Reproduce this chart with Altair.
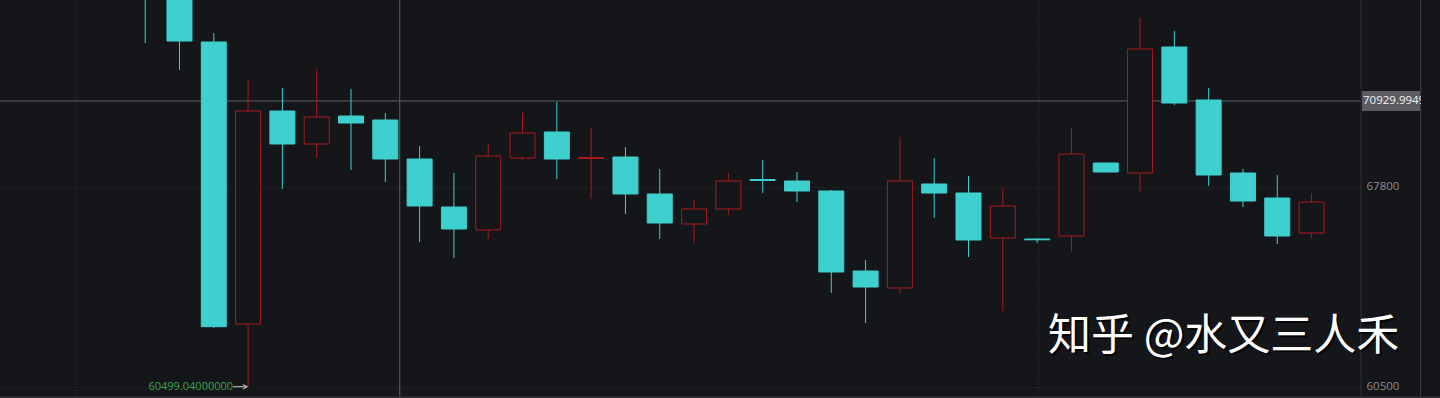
import altair as alt
import pandas as pd

BG = "#141619"
CYAN = "#3ecfcf"
RED = "#a8191f"

# candle index, OHLC values
idx = list(range(1, 36))
opens = [75600, 74950, 73082, 62789, 70563, 69359, 70380, 70235, 68811, 67059,
         66220, 68848, 69797, 68829, 68884, 67534, 66439, 66986, 68063, 68008,
         67643, 64723, 64103, 67899, 67570, 65928, 65891, 66001, 68665, 68300,
         72899, 70965, 68300, 67388, 66110]
closes = [74900, 73118, 62690, 70563, 69359, 70344, 70125, 68811, 67096, 66256,
          68921, 69760, 68811, 68866, 67534, 66475, 66986, 68008, 68026, 67643,
          64687, 64139, 68008, 67570, 65855, 67096, 65862, 68994, 68337, 72826,
          70855, 68227, 67278, 66001, 67242]
highs = [76100, 75300, 73410, 71731, 71403, 72096, 71366, 70490, 69286, 68300,
         69359, 70490, 70892, 69943, 69249, 68446, 67315, 68300, 68775, 68337,
         67680, 65124, 69614, 68848, 68191, 67753, 65909, 69943, 68665, 73958,
         73483, 71403, 68446, 68227, 67570]
lows = [73045, 72060, 62642, 60499.04, 67716, 68848, 68410, 67972, 65782, 65198,
        65891, 68775, 68081, 67351, 66804, 65891, 65745, 66767, 67570, 67242,
        63920, 62825, 63920, 66657, 65234, 63263, 65745, 65417, 68337, 67607,
        70782, 67826, 67059, 65709, 65928]

axis_ticks = [60500, 67800]
cross_price = 70929.9949
cross_label = "70929.9949"
cross_index = 8.42
grid_index = [-1, 27.05]
low_label = "60499.04000000"
low_index = 4
low_price = 60499.04
watermark = "知乎 @水又三人禾"

W, H = 1361, 397
x_dom = [-3.086, 36.295]
y_dom = [60124, 74615]

df = pd.DataFrame({"i": idx, "open": opens, "close": closes, "high": highs, "low": lows})
df["dir"] = ["up" if c >= o else "down" for o, c in zip(opens, closes)]

xs = alt.Scale(domain=x_dom, nice=False, zero=False)
ys = alt.Scale(domain=y_dom, nice=False, zero=False)

yaxis = alt.Axis(orient="right", values=axis_ticks, title=None, ticks=False, domain=False,
                 format="d", grid=True, gridColor="#2e3137", gridDash=[1, 2],
                 labelColor="#8c8c8c", labelFontSize=11.5, labelFont="Open Sans",
                 labelPadding=5)

base = alt.Chart(df)

wicks = base.mark_rule(strokeWidth=1, clip=True).encode(
    x=alt.X("i:Q", scale=xs, axis=None),
    y=alt.Y("low:Q", scale=ys, axis=yaxis),
    y2="high:Q",
    color=alt.Color("dir:N", scale=alt.Scale(domain=["up", "down"], range=[RED, CYAN]), legend=None),
)

bodies = base.mark_bar(size=25, strokeWidth=1, clip=True).encode(
    x=alt.X("i:Q", scale=xs, axis=None),
    y=alt.Y("open:Q", scale=ys, axis=yaxis),
    y2="close:Q",
    fill=alt.Fill("dir:N", scale=alt.Scale(domain=["up", "down"], range=[BG, CYAN]), legend=None),
    stroke=alt.Stroke("dir:N", scale=alt.Scale(domain=["up", "down"], range=[RED, CYAN]), legend=None),
)

grid_v = alt.Chart(pd.DataFrame({"g": grid_index})).mark_rule(
    color="#2e3137", strokeDash=[1, 2], strokeWidth=1
).encode(x=alt.X("g:Q", scale=xs, axis=None), y=alt.value(0), y2=alt.value(H))

cross_v = alt.Chart(pd.DataFrame({"c": [cross_index]})).mark_rule(
    color="#5e5f62", strokeWidth=1
).encode(x=alt.X("c:Q", scale=xs, axis=None), y=alt.value(0), y2=alt.value(H))

cdf = pd.DataFrame({"p": [cross_price], "t": [cross_label]})
cross_h = alt.Chart(cdf).mark_rule(color="#5e5f62", strokeWidth=1).encode(
    y=alt.Y("p:Q", scale=ys, axis=yaxis), x=alt.value(0), x2=alt.value(W))
cross_box = alt.Chart(cdf).mark_rule(color="#5b5b62", strokeWidth=20, strokeCap="butt").encode(
    y=alt.Y("p:Q", scale=ys, axis=yaxis), x=alt.value(W + 1), x2=alt.value(1420))
cross_txt = alt.Chart(cdf).mark_text(align="left", baseline="middle", color="#f2f2f2",
                                     fontSize=11.5, font="Open Sans").encode(
    y=alt.Y("p:Q", scale=ys, axis=yaxis), x=alt.value(W + 2), text="t:N")
mask = alt.Chart(cdf).mark_rule(color=BG, strokeWidth=30, strokeCap="butt").encode(
    y=alt.Y("p:Q", scale=ys, axis=yaxis), x=alt.value(1421), x2=alt.value(1440))

ldf = pd.DataFrame({"i": [low_index], "p": [low_price], "t": [low_label]})
low_txt = alt.Chart(ldf).mark_text(align="right", baseline="middle", color="#3da24b",
                                   fontSize=11, font="Open Sans", dx=-15).encode(
    x=alt.X("i:Q", scale=xs, axis=None), y=alt.Y("p:Q", scale=ys, axis=yaxis), text="t:N")
low_line = alt.Chart(ldf).mark_rule(color="#d0d0d0", strokeWidth=1,
                                    xOffset=-15, x2Offset=-1).encode(
    x=alt.X("i:Q", scale=xs, axis=None), x2="i:Q",
    y=alt.Y("p:Q", scale=ys, axis=yaxis))
low_head = alt.Chart(ldf).mark_point(shape="M -1 -1 L 1 0 L -1 1", size=20, filled=False,
                                     color="#d0d0d0", strokeWidth=1, opacity=1,
                                     xOffset=-3).encode(
    x=alt.X("i:Q", scale=xs, axis=None),
    y=alt.Y("p:Q", scale=ys, axis=yaxis))

wdf = pd.DataFrame({"t": [watermark]})
wm_shadow = alt.Chart(wdf).mark_text(align="left", baseline="middle", color="#000000", opacity=0.75,
                                     fontSize=43, font="Noto Sans CJK SC", dx=2, dy=2).encode(
    x=alt.value(1048), y=alt.value(337), text="t:N")
wm = alt.Chart(wdf).mark_text(align="left", baseline="middle", color="#ffffff",
                              fontSize=43, font="Noto Sans CJK SC").encode(
    x=alt.value(1048), y=alt.value(337), text="t:N")

sdf = pd.DataFrame({"k": [0]})
border1 = alt.Chart(sdf).mark_rule(color="#2c2e33").encode(
    x=alt.value(W), y=alt.value(0), y2=alt.value(H))
border2 = alt.Chart(sdf).mark_rule(color="#3c3e43").encode(
    x=alt.value(1420.5), y=alt.value(0), y2=alt.value(H))
bottom = alt.Chart(sdf).mark_rule(color="#3a3c41").encode(
    y=alt.value(H), x=alt.value(0), x2=alt.value(1440))
rt_ticks = alt.Chart(pd.DataFrame({"yy": [23, 43, 302]})).mark_rule(color="#45474c").encode(
    y=alt.Y("yy:Q", scale=alt.Scale(type="identity")), x=alt.value(1423), x2=alt.value(1440))

chart = alt.layer(
    grid_v, cross_v, cross_h, wicks, bodies, low_txt, low_line, low_head,
    border1, border2, bottom, cross_box, cross_txt, mask, rt_ticks, wm_shadow, wm
).resolve_scale(
    y="shared"
).properties(
    width=W, height=H, background=BG,
    padding={"left": 0, "top": 0, "right": 79, "bottom": 1},
    autosize=alt.AutoSizeParams(type="none")
).configure_view(stroke=None, fill=BG)

chart.save("out.html", embed_options={"renderer": "svg", "actions": False})
